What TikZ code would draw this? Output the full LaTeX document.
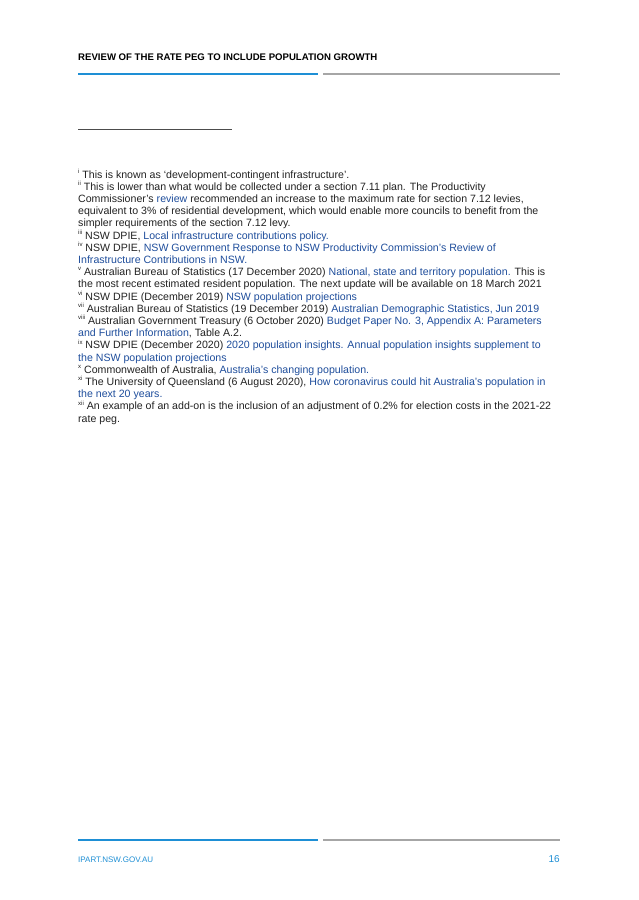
\documentclass[tikz,border=0pt]{standalone}
\usepackage{fontspec}
\setmainfont{Liberation Sans}
\definecolor{lnk}{HTML}{1F4E9C}
\definecolor{bar}{HTML}{1E8FD5}
\definecolor{grr}{HTML}{A6A6A6}
\definecolor{txt}{HTML}{222222}
\newcommand{\lk}[1]{\textcolor{lnk}{#1}}
\newcommand{\fnm}[1]{\raisebox{0.45em}{\fontsize{6}{6}\selectfont #1}}
\begin{document}
\begin{tikzpicture}[x=1pt,y=-1pt,
  fl/.style={anchor=base west,inner sep=0pt,font=\fontsize{10.6}{12}\selectfont,text=txt}]
\useasboundingbox (0,0) rectangle (638,900);
\fill[white] (0,0) rectangle (638,900);
\node[anchor=base west,inner sep=0pt,font=\fontsize{9.6}{11}\selectfont\bfseries] (hd) at (78,60) {REVIEW OF THE RATE PEG TO INCLUDE POPULATION GROWTH};
\coordinate (b1) at (78,74); \coordinate (b2) at (318,74);
\coordinate (g1) at (323,74); \coordinate (g2) at (560,74);
\draw[bar,line width=1.6pt] (b1) -- (b2);
\draw[grr,line width=1.2pt] (g1) -- (g2);
\coordinate (r1) at (78,129); \coordinate (r2) at (232,129);
\draw[black!70,line width=0.6pt] (r1) -- (r2);
\node[fl] (l1) at (78,178) {\fnm{i} This is known as ‘development-contingent infrastructure’.};
\node[fl] (l2) at (78,190.2) {\fnm{ii} This is lower than what would be collected under a section 7.11 plan. The Productivity};
\node[fl] (l3) at (78,202.4) {Commissioner’s \lk{review} recommended an increase to the maximum rate for section 7.12 levies,};
\node[fl] (l4) at (78,214.6) {equivalent to 3\% of residential development, which would enable more councils to benefit from the};
\node[fl] (l5) at (78,226.8) {simpler requirements of the section 7.12 levy.};
\node[fl] (l6) at (78,239) {\fnm{iii} NSW DPIE, \lk{Local infrastructure contributions policy.}};
\node[fl] (l7) at (78,251.2) {\fnm{iv} NSW DPIE, \lk{NSW Government Response to NSW Productivity Commission’s Review of}};
\node[fl] (l8) at (78,263.4) {\lk{Infrastructure Contributions in NSW.}};
\node[fl] (l9) at (78,275.6) {\fnm{v} Australian Bureau of Statistics (17 December 2020) \lk{National, state and territory population.} This is};
\node[fl] (l10) at (78,287.8) {the most recent estimated resident population. The next update will be available on 18 March 2021};
\node[fl] (l11) at (78,300) {\fnm{vi} NSW DPIE (December 2019) \lk{NSW population projections}};
\node[fl] (l12) at (78,312.2) {\fnm{vii} Australian Bureau of Statistics (19 December 2019) \lk{Australian Demographic Statistics, Jun 2019}};
\node[fl] (l13) at (78,324.4) {\fnm{viii} Australian Government Treasury (6 October 2020) \lk{Budget Paper No. 3, Appendix A: Parameters}};
\node[fl] (l14) at (78,336.6) {\lk{and Further Information}, Table A.2.};
\node[fl] (l15) at (78,348.8) {\fnm{ix} NSW DPIE (December 2020) \lk{2020 population insights. Annual population insights supplement to}};
\node[fl] (l16) at (78,361) {\lk{the NSW population projections}};
\node[fl] (l17) at (78,373.2) {\fnm{x} Commonwealth of Australia, \lk{Australia’s changing population.}};
\node[fl] (l18) at (78,385.4) {\fnm{xi} The University of Queensland (6 August 2020), \lk{How coronavirus could hit Australia’s population in}};
\node[fl] (l19) at (78,397.6) {\lk{the next 20 years.}};
\node[fl] (l20) at (78,409.8) {\fnm{xii} An example of an add-on is the inclusion of an adjustment of 0.2\% for election costs in the 2021-22};
\node[fl] (l21) at (78,422) {rate peg.};
\coordinate (fb1) at (78,840); \coordinate (fb2) at (318,840);
\coordinate (fg1) at (323,840); \coordinate (fg2) at (560,840);
\draw[bar,line width=1.6pt] (fb1) -- (fb2);
\draw[grr,line width=1.2pt] (fg1) -- (fg2);
\node[anchor=base west,inner sep=0pt,font=\fontsize{8}{9}\selectfont,text=bar] (ft) at (78,862) {IPART.NSW.GOV.AU};
\node[anchor=base east,inner sep=0pt,font=\fontsize{10}{12}\selectfont,text=bar] (pg) at (560,862) {16};
\end{tikzpicture}
\end{document}
